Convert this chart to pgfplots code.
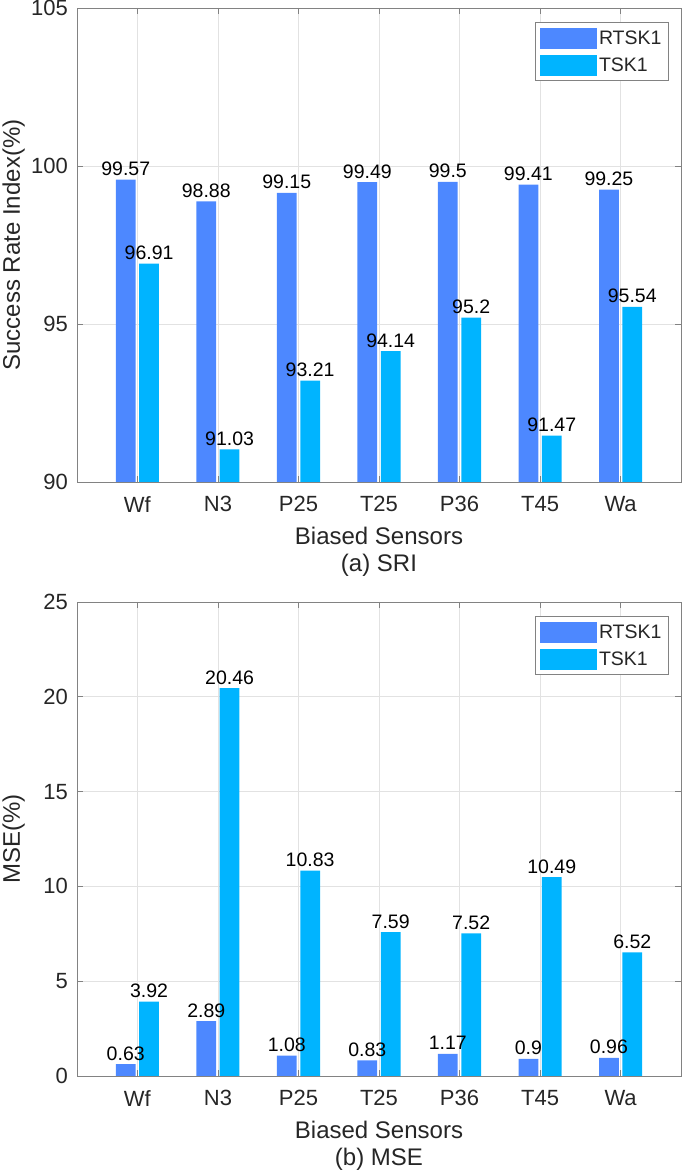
\documentclass[border=0pt]{standalone}
\usepackage{fontspec}
\setmainfont{Liberation Sans}
\usepackage{pgfplots}
\pgfplotsset{compat=1.18}
\definecolor{cA}{RGB}{77,136,255}
\definecolor{cB}{RGB}{0,180,255}
\definecolor{axgray}{RGB}{130,130,130}
\definecolor{gridgray}{RGB}{226,226,226}
\definecolor{txt}{RGB}{38,38,38}

\pgfplotsset{
 mystyle/.style={
  scale only axis, width=604pt, height=474pt,
  xmin=0.25, xmax=7.75,
  xtick={1,2,3,4,5,6,7},
  xticklabels={Wf,N3,P25,T25,P36,T45,Wa},
  ybar, bar width=0.245,
  axis line style={axgray, line width=0.8pt},
  tick style={axgray, line width=0.8pt},
  tick align=inside, major tick length=6pt,
  grid=major, major grid style={gridgray, line width=0.8pt},
  /pgf/number format/assume math mode=true,
  ticklabel style={font=\fontsize{22}{26}\selectfont, text=txt, inner sep=0pt},
  xticklabel style={yshift=-14pt},
  yticklabel style={xshift=-9pt},
  every axis x label/.style={at={(axis description cs:0.5,0)}, anchor=north, yshift=-45pt, align=center, inner sep=0pt, font=\fontsize{24}{27}\selectfont, text=txt},
  every axis y label/.style={at={(axis description cs:-0.0944,0.5)}, rotate=90, anchor=base, inner sep=0pt, font=\fontsize{24}{27}\selectfont, text=txt},
  legend style={at={(0.98,0.970)}, anchor=north east, draw=axgray, line width=0.8pt, fill=white,
    font=\fontsize{19.5}{22}\selectfont, text=txt, inner xsep=5pt, inner ysep=5pt, row sep=6pt,
    nodes={inner sep=2pt},
    /tikz/every even column/.append style={column sep=3pt}},
  legend cell align=left,
  legend image code/.code={\fill[##1,draw=none] (0pt,-10.5pt) rectangle (57pt,10.5pt);},
  point meta=explicit symbolic,
  nodes near coords,
  every node near coord/.append style={font=\fontsize{19.5}{20}\selectfont, anchor=base, yshift=4pt, inner sep=0pt, text=black},
 }
}

\begin{document}
\begin{tikzpicture}
\useasboundingbox (0pt,0pt) rectangle (685pt,1173pt);
\begin{axis}[mystyle, at={(77pt,691pt)}, anchor=south west,
  ymin=90, ymax=105, ytick={90,95,100,105},
  xlabel={Biased Sensors\\(a) SRI}, ylabel={Success Rate Index(\%)}]
\addplot[fill=cA, draw=none, bar shift=-0.145] coordinates {
 (1,99.57) [99.57] (2,98.88) [98.88] (3,99.15) [99.15] (4,99.49) [99.49]
 (5,99.5) [99.5] (6,99.41) [99.41] (7,99.25) [99.25]};
\addlegendentry{RTSK1}
\addplot[fill=cB, draw=none, bar shift=0.145] coordinates {
 (1,96.91) [96.91] (2,91.03) [91.03] (3,93.21) [93.21] (4,94.14) [94.14]
 (5,95.2) [95.2] (6,91.47) [91.47] (7,95.54) [95.54]};
\addlegendentry{TSK1}
\end{axis}
\begin{axis}[mystyle, at={(77pt,97pt)}, anchor=south west,
  ymin=0, ymax=25, ytick={0,5,10,15,20,25},
  xlabel={Biased Sensors\\(b) MSE}, ylabel={MSE(\%)}]
\addplot[fill=cA, draw=none, bar shift=-0.145] coordinates {
 (1,0.63) [0.63] (2,2.89) [2.89] (3,1.08) [1.08] (4,0.83) [0.83]
 (5,1.17) [1.17] (6,0.9) [0.9] (7,0.96) [0.96]};
\addlegendentry{RTSK1}
\addplot[fill=cB, draw=none, bar shift=0.145] coordinates {
 (1,3.92) [3.92] (2,20.46) [20.46] (3,10.83) [10.83] (4,7.59) [7.59]
 (5,7.52) [7.52] (6,10.49) [10.49] (7,6.52) [6.52]};
\addlegendentry{TSK1}
\end{axis}
\end{tikzpicture}
\end{document}
